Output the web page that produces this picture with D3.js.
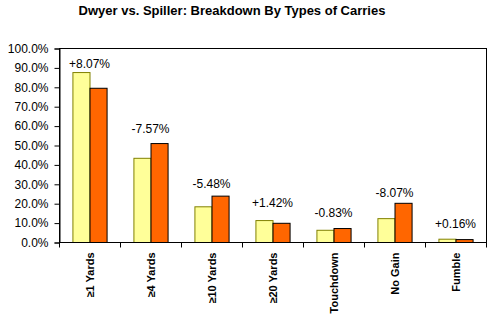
<!DOCTYPE html>
<html><head><meta charset="utf-8">
<script src="https://cdn.jsdelivr.net/npm/d3@7"></script>
<style>body{margin:0;background:#fff}svg{display:block}</style>
</head><body>
<script>
const categories = ["\u22651 Yards","\u22654 Yards","\u226510 Yards","\u226520 Yards","Touchdown","No Gain","Fumble"];
const dwyer   = [87.6, 43.4, 18.4, 11.3, 6.3, 12.3, 1.7];
const spiller = [79.5, 51.0, 23.9, 9.9, 7.2, 20.2, 1.5];
const diffLabels = ["+8.07%","-7.57%","-5.48%","+1.42%","-0.83%","-8.07%","+0.16%"];
const labelAt = [89.8, 56.3, 28.0, 18.2, 13.0, 23.4, 7.4];
const yTicks = [0,10,20,30,40,50,60,70,80,90,100];

const W = 496, H = 321;
const m = {left: 59, right: 10, top: 48, bottom: 79};
const svg = d3.select("body").append("svg").attr("width", W).attr("height", H);

const x = d3.scaleBand().domain(categories).range([m.left, W - m.right]).paddingInner(0.44).paddingOuter(0.22);
const xin = d3.scaleBand().domain(["d","s"]).range([0, x.bandwidth()]);
const y = d3.scaleLinear().domain([0,100]).range([H - m.bottom, m.top]);

svg.append("text").attr("x", 232).attr("y", 15).attr("text-anchor","middle")
  .attr("font-family","Liberation Sans, Arial, sans-serif").attr("font-size",13).attr("font-weight","bold")
  .text("Dwyer vs. Spiller: Breakdown By Types of Carries");

// plot border
svg.append("rect").attr("x", m.left + 0.5).attr("y", y(100) + 0.5)
  .attr("width", W - m.right - m.left).attr("height", y(0) - y(100))
  .attr("fill","none").attr("stroke","#000");

const g = svg.append("g").selectAll("g").data(categories).join("g")
  .attr("transform", d => `translate(${x(d)},0)`);
g.append("rect").attr("x", xin("d")+0.5).attr("width", xin.bandwidth())
  .attr("y", (d,i) => y(dwyer[i])+0.5).attr("height", (d,i) => y(0) - y(dwyer[i]))
  .attr("fill","#FFFF99").attr("stroke","#808000");
g.append("rect").attr("x", xin("s")+0.5).attr("width", xin.bandwidth())
  .attr("y", (d,i) => y(spiller[i])+0.5).attr("height", (d,i) => y(0) - y(spiller[i]))
  .attr("fill","#FF6600").attr("stroke","#000");
g.append("text").attr("x", x.bandwidth()/2).attr("y", (d,i) => y(labelAt[i]))
  .attr("text-anchor","middle").attr("font-family","Liberation Sans, Arial, sans-serif")
  .attr("font-size",12).text((d,i) => diffLabels[i]);

// y axis
const ya = svg.append("g").attr("transform", `translate(${m.left+0.5},0.5)`)
  .call(d3.axisLeft(y).tickValues(yTicks).tickFormat(d => d.toFixed(1) + "%").tickSize(5).tickPadding(6));
ya.select(".domain").attr("stroke","#000");
ya.selectAll("text").attr("font-family","Liberation Sans, Arial, sans-serif").attr("font-size",12).attr("fill","#000");

// x axis
const step = x.step();
const xb = svg.append("g").attr("transform", `translate(0,${y(0)+0.5})`);
xb.append("line").attr("x1", m.left).attr("x2", W - m.right).attr("stroke","#000");
xb.selectAll("line.t").data(d3.range(categories.length + 1)).join("line").attr("class","t")
  .attr("x1", i => Math.round(m.left + i*step) + 0.5).attr("x2", i => Math.round(m.left + i*step) + 0.5)
  .attr("y1", 0).attr("y2", 5).attr("stroke","#000");
xb.selectAll("text").data(categories).join("text")
  .attr("transform", d => `translate(${x(d) + x.bandwidth()/2 + 4},10) rotate(-90)`)
  .attr("text-anchor","end").attr("font-family","Liberation Sans, Arial, sans-serif")
  .attr("font-size",11).attr("font-weight","bold").text(d => d);
</script>
</body></html>
